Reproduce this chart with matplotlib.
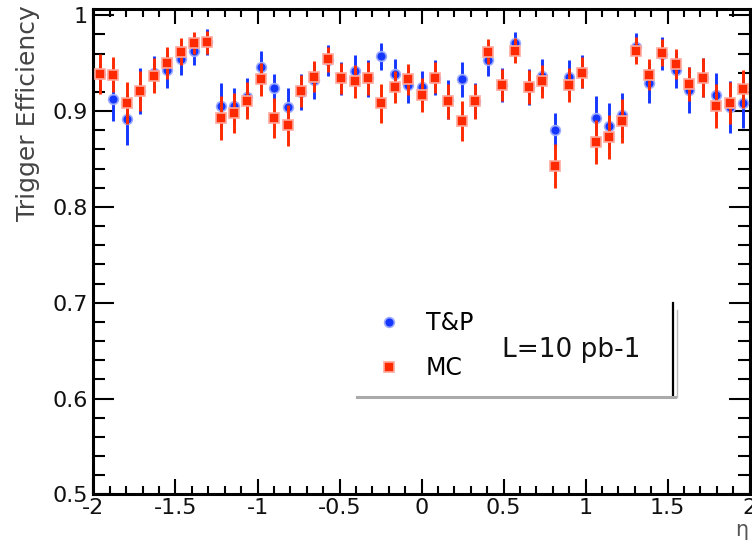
"""
Trigger efficiency vs eta: tag-and-probe compared with MC
"""
import matplotlib
matplotlib.use('Agg')
import matplotlib.pyplot as plt
from matplotlib.lines import Line2D
from matplotlib.ticker import MultipleLocator

plt.rcParams['axes.unicode_minus'] = False

# bin centres in eta (49 bins between -2 and 2)
eta = [-1.959, -1.878, -1.796, -1.714, -1.633, -1.551, -1.469, -1.388, -1.306,
       -1.224, -1.143, -1.061, -0.980, -0.898, -0.816, -0.735, -0.653, -0.571,
       -0.490, -0.408, -0.327, -0.245, -0.163, -0.082, 0.000, 0.082, 0.163,
       0.245, 0.327, 0.408, 0.490, 0.571, 0.653, 0.735, 0.816, 0.898, 0.980,
       1.061, 1.143, 1.224, 1.306, 1.388, 1.469, 1.551, 1.633, 1.714, 1.796,
       1.878, 1.959]

# tag and probe
tp_eff = [0.939, 0.913, 0.892, 0.921, 0.940, 0.943, 0.954, 0.963, 0.972,
          0.905, 0.905, 0.915, 0.946, 0.924, 0.904, 0.920, 0.932, 0.953,
          0.934, 0.942, 0.934, 0.957, 0.939, 0.927, 0.925, 0.935, 0.912,
          0.933, 0.911, 0.953, 0.927, 0.971, 0.925, 0.937, 0.880, 0.936,
          0.941, 0.893, 0.884, 0.896, 0.967, 0.929, 0.960, 0.943, 0.922,
          0.935, 0.917, 0.904, 0.908]
tp_err = [0.017, 0.023, 0.027, 0.024, 0.017, 0.019, 0.016, 0.015, 0.014,
          0.024, 0.019, 0.019, 0.017, 0.015, 0.020, 0.019, 0.019, 0.016,
          0.017, 0.016, 0.019, 0.014, 0.015, 0.019, 0.017, 0.018, 0.020,
          0.018, 0.018, 0.016, 0.018, 0.011, 0.019, 0.017, 0.018, 0.017,
          0.017, 0.023, 0.024, 0.023, 0.014, 0.021, 0.017, 0.019, 0.024,
          0.020, 0.023, 0.027, 0.026]

# monte carlo
mc_eff = [0.939, 0.938, 0.908, 0.921, 0.937, 0.950, 0.962, 0.971, 0.972,
          0.893, 0.898, 0.911, 0.933, 0.893, 0.885, 0.921, 0.936, 0.954,
          0.934, 0.931, 0.934, 0.908, 0.925, 0.933, 0.917, 0.935, 0.910,
          0.890, 0.910, 0.962, 0.927, 0.963, 0.925, 0.931, 0.843, 0.927,
          0.940, 0.868, 0.873, 0.890, 0.963, 0.938, 0.961, 0.949, 0.928,
          0.935, 0.905, 0.908, 0.923]
mc_err = [0.021, 0.018, 0.022, 0.021, 0.018, 0.017, 0.014, 0.011, 0.012,
          0.023, 0.021, 0.019, 0.017, 0.021, 0.021, 0.017, 0.016, 0.013,
          0.016, 0.017, 0.017, 0.020, 0.017, 0.016, 0.018, 0.016, 0.018,
          0.021, 0.018, 0.013, 0.017, 0.013, 0.018, 0.017, 0.023, 0.018,
          0.016, 0.023, 0.023, 0.023, 0.014, 0.016, 0.014, 0.016, 0.018,
          0.020, 0.023, 0.022, 0.020]

x_ticks = [-2, -1.5, -1, -0.5, 0, 0.5, 1, 1.5, 2]
x_tick_labels = ['-2', '-1.5', '-1', '-0.5', '0', '0.5', '1', '1.5', '2']
y_ticks = [0.5, 0.6, 0.7, 0.8, 0.9, 1.0]
y_tick_labels = ['0.5', '0.6', '0.7', '0.8', '0.9', '1']

blue = '#1436ff'
red = '#ff2a00'

fig = plt.figure(figsize=(7.52, 5.4), dpi=100)
ax = fig.add_axes([0.1243, 0.0846, 0.8725, 0.8987])

ax.errorbar(eta, tp_eff, yerr=tp_err, fmt='o', color=blue, ms=7,
            mec='#9aa8ff', mew=1.2, elinewidth=2.1, capsize=0, zorder=3)
ax.errorbar(eta, mc_eff, yerr=mc_err, fmt='s', color=red, ms=6.5,
            mec='#ffa89c', mew=1.2, elinewidth=2.1, capsize=0, zorder=4)

ax.set_xlim(-2, 2)
ax.set_ylim(0.5, 1.0065)
ax.set_xticks(x_ticks)
ax.set_xticklabels(x_tick_labels)
ax.set_yticks(y_ticks)
ax.set_yticklabels(y_tick_labels)
ax.xaxis.set_minor_locator(MultipleLocator(0.1))
ax.yaxis.set_minor_locator(MultipleLocator(0.02))

ax.tick_params(axis='x', which='major', direction='in', length=11, width=1.5,
               top=True, pad=3, labelsize=16, labelcolor='#111111')
ax.tick_params(axis='x', which='minor', direction='in', length=6, width=1.5, top=True)
ax.tick_params(axis='y', which='major', direction='in', length=15, width=1.5,
               right=True, pad=4, labelsize=16, labelcolor='#111111')
ax.tick_params(axis='y', which='minor', direction='in', length=8.5, width=1.5, right=True)
for sp in ax.spines.values():
    sp.set_linewidth(2.2)

# legend
handles = [Line2D([], [], ls='none', marker='o', color=blue, ms=7, mec='#9aa8ff', mew=1.2),
           Line2D([], [], ls='none', marker='s', color=red, ms=6.5, mec='#ffa89c', mew=1.2)]
ax.legend(handles, ['T&P', 'MC'], loc='upper left', bbox_to_anchor=(0.433, 0.378),
          frameon=False, borderpad=0, borderaxespad=0, handlelength=1.0,
          handletextpad=1.05, labelspacing=0.9, fontsize=17)
ax.text(0.6226, 0.2973, 'L=10 pb-1', transform=ax.transAxes, va='center',
        ha='left', fontsize=19, color='#111111')

# pave border / shadow
ax.add_line(Line2D([0.8837, 0.8837], [0.2046, 0.394], transform=ax.transAxes,
                   color='black', lw=1.6, clip_on=False))
ax.add_line(Line2D([0.889, 0.889], [0.2005, 0.38], transform=ax.transAxes,
                   color='#bbbbbb', lw=1.0, clip_on=False))
ax.add_line(Line2D([0.4016, 0.8863], [0.2005, 0.2005], transform=ax.transAxes,
                   color='#aaaaaa', lw=2.2, clip_on=False))

fig.text(0.037, 0.991, 'Trigger Efficiency', rotation=90, ha='center', va='top',
         fontsize=18, color='#444444')
fig.text(0.986, 0.018, 'η', ha='center', va='center', fontsize=15, color='#555555')

fig.savefig('out.png', dpi=100)
